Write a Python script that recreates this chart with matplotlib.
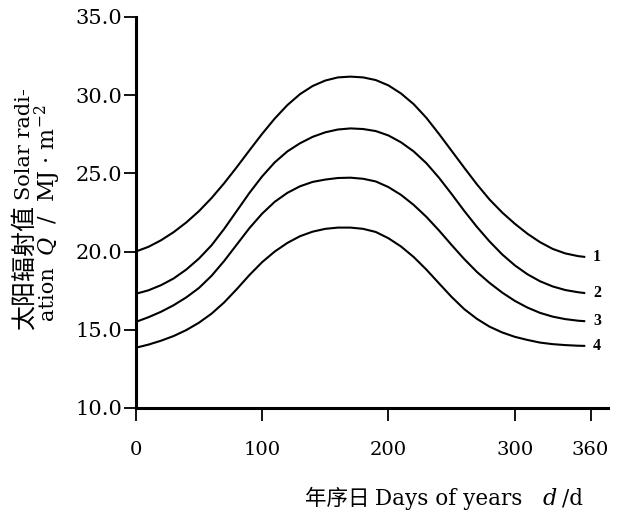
import matplotlib
matplotlib.use("Agg")
import matplotlib.pyplot as plt

plt.rcParams['font.family'] = ['DejaVu Serif', 'Noto Sans CJK SC']
plt.rcParams['mathtext.fontset'] = 'dejavuserif'

days = [0, 10, 20, 30, 40, 50, 60, 70, 80, 90, 100, 110, 120, 130, 140, 150, 160, 170,
        180, 190, 200, 210, 220, 230, 240, 250, 260, 270, 280, 290, 300, 310, 320, 330,
        340, 350, 355]
curve1 = [20.0, 20.3, 20.72, 21.24, 21.86, 22.58, 23.42, 24.37, 25.4, 26.47, 27.52, 28.5,
          29.36, 30.06, 30.58, 30.93, 31.13, 31.18, 31.13, 30.96, 30.62, 30.1, 29.42, 28.55,
          27.52, 26.44, 25.36, 24.3, 23.33, 22.5, 21.78, 21.14, 20.6, 20.17, 19.88, 19.71, 19.66]
curve2 = [17.3, 17.52, 17.85, 18.28, 18.85, 19.55, 20.4, 21.45, 22.6, 23.75, 24.8, 25.7,
          26.4, 26.92, 27.33, 27.62, 27.8, 27.87, 27.83, 27.7, 27.42, 26.98, 26.4, 25.65,
          24.72, 23.68, 22.6, 21.58, 20.65, 19.82, 19.12, 18.55, 18.1, 17.77, 17.54, 17.4, 17.35]
curve3 = [15.5, 15.8, 16.15, 16.57, 17.07, 17.67, 18.45, 19.4, 20.45, 21.5, 22.42, 23.18,
          23.75, 24.17, 24.45, 24.6, 24.7, 24.72, 24.65, 24.48, 24.12, 23.62, 22.98, 22.22,
          21.35, 20.42, 19.52, 18.7, 18.0, 17.38, 16.85, 16.42, 16.08, 15.84, 15.68, 15.58, 15.55]
curve4 = [13.85, 14.05, 14.3, 14.6, 14.98, 15.45, 16.03, 16.75, 17.6, 18.5, 19.32, 20.0,
          20.55, 20.98, 21.27, 21.45, 21.53, 21.53, 21.45, 21.25, 20.85, 20.32, 19.65, 18.85,
          17.97, 17.1, 16.32, 15.7, 15.2, 14.83, 14.55, 14.35, 14.18, 14.08, 14.02, 13.98, 13.97]
curves = [curve1, curve2, curve3, curve4]
labels = ['1', '2', '3', '4']

xticks = [0, 100, 200, 300, 360]
yticks = [10, 15, 20, 25, 30, 35]

fig = plt.figure(figsize=(6.2, 5.11), dpi=100)
ax = fig.add_axes([0.219, 0.2016, 0.762, 0.7654])

for vals, lab in zip(curves, labels):
    ax.plot(days, vals, color='black', lw=1.5, solid_joinstyle='round')
    ax.text(days[-1] + 7, vals[-1], lab, fontsize=11.5, fontweight='bold',
            family='Liberation Serif', ha='left', va='center')

ax.set_xlim(0, 374)
ax.set_ylim(10, 35)
ax.set_xticks(xticks)
ax.set_yticks(yticks)
ax.set_yticklabels(['%.1f' % v for v in yticks])
ax.spines['top'].set_visible(False)
ax.spines['right'].set_visible(False)
ax.spines['left'].set_linewidth(2.2)
ax.spines['bottom'].set_linewidth(2.2)
ax.tick_params(axis='y', direction='out', length=8.6, width=1.3, pad=1, labelsize=15)
ax.tick_params(axis='x', direction='out', length=9.5, width=1.3, pad=14, labelsize=14)

# x axis title
fig.text(0.596, 0.012, '年序日', fontsize=15.5, family='Noto Sans CJK SC', ha='right', va='baseline')
fig.text(0.605, 0.012, 'Days of years', fontsize=15.5, ha='left', va='baseline')
fig.text(0.874, 0.012, '$d$', fontsize=16, ha='left', va='baseline')
fig.text(0.907, 0.012, '/d', fontsize=15.5, ha='left', va='baseline')

# y axis title, two rotated lines
fig.text(0.040, 0.354, '太阳辐射值', fontsize=18, family='Noto Sans CJK SC',
         rotation=90, ha='center', va='bottom')
fig.text(0.040, 0.609, 'Solar radi-', fontsize=15, rotation=90, ha='center', va='bottom')
fig.text(0.077, 0.374, 'ation', fontsize=15, rotation=90, ha='center', va='bottom')
fig.text(0.077, 0.500, '$Q$  /  MJ · m$^{-2}$', fontsize=16, rotation=90, ha='center', va='bottom')

fig.savefig('out.png', dpi=100)
